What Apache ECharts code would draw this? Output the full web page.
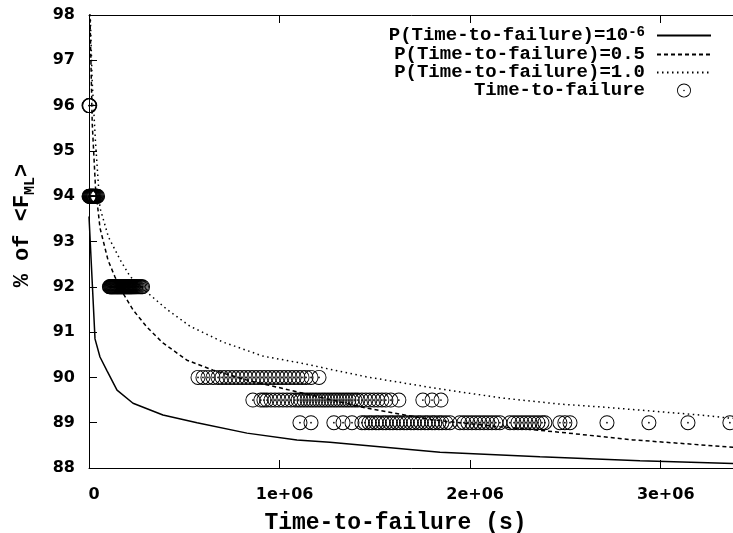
<!DOCTYPE html>
<html>
<head>
<meta charset="utf-8">
<script src="https://cdn.jsdelivr.net/npm/echarts/dist/echarts.min.js"></script>
<style>
  html, body { margin: 0; padding: 0; background: #fff; }
  #chart { width: 733px; height: 533px; }
</style>
</head>
<body>
<div id="chart"></div>
<script>
// Model curves: time-to-failure (s) vs % of <F_ML>
const curveLowX  = [0, 31500, 57700, 94000, 147000, 231000, 388000, 567000, 829000, 1091000, 1264000, 1842000, 2366000, 2891000, 3379000, 3500000];
const curveLowY  = [93.55, 90.85, 90.45, 90.15, 89.72, 89.43, 89.17, 89.0, 88.77, 88.62, 88.57, 88.35, 88.25, 88.16, 88.10, 88.09];

const curveMidX  = [0, 17000, 34000, 57700, 99700, 136000, 178000, 231000, 304000, 388000, 514000, 651000, 829000, 1002000, 1458000, 1805000, 2156000, 2471000, 2854000, 3379000, 3500000];
const curveMidY  = [99.0, 95.6, 94.2, 93.3, 92.59, 92.22, 91.86, 91.49, 91.11, 90.76, 90.38, 90.16, 89.94, 89.77, 89.32, 89.06, 88.91, 88.79, 88.62, 88.46, 88.43];

const curveHighX = [0, 17000, 34000, 57700, 102000, 163000, 215000, 304000, 409000, 530000, 703000, 913000, 1107000, 1458000, 1805000, 2156000, 2471000, 2681000, 3206000, 3363000, 3500000];
const curveHighY = [99.0, 96.5, 95.2, 93.74, 93.1, 92.6, 92.23, 91.88, 91.5, 91.13, 90.78, 90.47, 90.32, 90.01, 89.77, 89.55, 89.41, 89.35, 89.17, 89.10, 89.07];

// Observed time-to-failure samples (s), grouped by level
const obsLevels = [96, 94, 92, 90, 89.5, 89];
const obs96  = [0, 2000, 4000];
const obs94  = [0, 2000, 4000, 5000, 7000, 9000, 11000, 13000, 15000, 17000, 19000, 21000, 23000, 25000, 27000, 30000, 33000, 36000, 39000, 42000, 45000];
const obs92  = [107000, 110000, 113000, 116000, 119000, 121000, 124000, 127000, 130000, 133000, 136000, 139000, 142000, 145000, 148000, 151000, 154000, 157000, 160000, 163000, 166000, 169000, 172000, 175000, 178000, 181000, 184000, 187000, 190000, 193000, 196000, 199000, 202000, 205000, 208000, 211000, 214000, 217000, 220000, 223000, 226000, 230000, 234000, 238000, 243000, 248000, 254000, 261000, 268000, 275000, 281000];
const obs90  = [572000, 598000, 624000, 651000, 677000, 698000, 719000, 740000, 761000, 782000, 803000, 824000, 845000, 866000, 887000, 908000, 929000, 950000, 971000, 992000, 1013000, 1034000, 1055000, 1076000, 1097000, 1118000, 1139000, 1165000, 1207000];
const obs895 = [860000, 902000, 918000, 934000, 955000, 976000, 997000, 1018000, 1039000, 1060000, 1081000, 1097000, 1112000, 1128000, 1144000, 1160000, 1175000, 1191000, 1207000, 1223000, 1238000, 1254000, 1270000, 1286000, 1301000, 1317000, 1333000, 1349000, 1364000, 1380000, 1396000, 1411000, 1432000, 1453000, 1474000, 1495000, 1516000, 1537000, 1558000, 1584000, 1626000, 1752000, 1800000, 1847000];
const obs89  = [1107000, 1165000, 1285000, 1333000, 1380000, 1432000, 1448000, 1469000, 1485000, 1506000, 1521000, 1542000, 1558000, 1579000, 1595000, 1616000, 1632000, 1653000, 1668000, 1689000, 1705000, 1726000, 1742000, 1763000, 1779000, 1800000, 1815000, 1836000, 1852000, 1873000, 1894000, 1946000, 1967000, 1988000, 2009000, 2030000, 2051000, 2072000, 2093000, 2114000, 2135000, 2156000, 2209000, 2230000, 2251000, 2272000, 2293000, 2314000, 2335000, 2356000, 2377000, 2392000, 2471000, 2497000, 2524000, 2718000, 2938000, 3143000, 3363000];

const xTickLabels = { 0: '0', 1000000: '1e+06', 2000000: '2e+06', 3000000: '3e+06' };
const seriesNames = ['P(Time-to-failure)=10^-6', 'P(Time-to-failure)=0.5', 'P(Time-to-failure)=1.0', 'Time-to-failure'];

const zip = (xs, ys) => xs.map((x, i) => [x, ys[i]]);
const obsGroups = [obs96, obs94, obs92, obs90, obs895, obs89];
const obsData = [];
obsGroups.forEach((xs, g) => xs.forEach(x => obsData.push([x, obsLevels[g]])));

// open circle with a centre dot (outer ring, hole, dot)
const ringDot = 'path://M8,0A8,8,0,1,1,8,16A8,8,0,1,1,8,0Z M8,1A7,7,0,1,0,8,15A7,7,0,1,0,8,1Z M8,7.1A0.9,0.9,0,1,1,8,8.9A0.9,0.9,0,1,1,8,7.1Z';

const MONO = '"Liberation Mono", "DejaVu Sans Mono", monospace';
const SANS = '"DejaVu Sans", sans-serif';

const chart = echarts.init(document.getElementById('chart'), null, { renderer: 'canvas' });

const tickStyle = { show: true, inside: true, length: 8, lineStyle: { color: '#000', width: 1 } };

chart.setOption({
  animation: false,
  backgroundColor: '#fff',
  grid: { left: 89, top: 15, right: -23, bottom: 65, containLabel: false, outerBoundsMode: 'none' },
  legend: {
    orient: 'vertical',
    align: 'right',
    right: 21,
    top: 25,
    padding: 0,
    itemWidth: 54,
    itemHeight: 14,
    itemGap: -1,
    data: seriesNames.map((n, i) => i === 3
      ? { name: n, icon: ringDot }
      : { name: n, itemStyle: { opacity: 0 } }),
    formatter: function (name) {
      if (name.indexOf('^') >= 0) {
        const parts = name.split('^');
        return '{a|' + parts[0] + '}{sup|' + parts[1] + '}';
      }
      return '{a|' + name + '}';
    },
    textStyle: {
      color: '#000',
      padding: [0, 7, 0, 0],
      lineHeight: 17,
      rich: {
        a: { fontFamily: MONO, fontWeight: 'bold', fontSize: 19, lineHeight: 17, color: '#000' },
        sup: { fontFamily: MONO, fontWeight: 'bold', fontSize: 14, lineHeight: 6, padding: [0, 0, 7, 0], color: '#000' }
      }
    }
  },
  xAxis: [{
    type: 'value',
    min: 0,
    max: 3500000,
    interval: 1000000,
    position: 'bottom',
    name: 'Time-to-failure (s)',
    nameLocation: 'middle',
    nameGap: 44,
    nameTextStyle: { fontFamily: MONO, fontWeight: 'bold', fontSize: 23, color: '#000', padding: [0, 54, 0, 0] },
    axisLine: { show: true, onZero: false, lineStyle: { color: '#000', width: 1 } },
    axisTick: tickStyle,
    splitLine: { show: false },
    axisLabel: {
      color: '#000', fontFamily: SANS, fontWeight: 'bold', fontSize: 16, margin: 19,
      padding: [0, 0, 0, 10],
      formatter: v => (xTickLabels[v] !== undefined ? xTickLabels[v] : '')
    }
  }, {
    type: 'value',
    min: 0,
    max: 3500000,
    interval: 1000000,
    position: 'top',
    axisLine: { show: true, onZero: false, lineStyle: { color: '#000', width: 1 } },
    axisTick: tickStyle,
    splitLine: { show: false },
    axisLabel: { show: false }
  }],
  yAxis: {
    type: 'value',
    min: 88,
    max: 98,
    interval: 1,
    name: '{a|% of <F}{sub|ML}{a|>}',
    nameLocation: 'middle',
    nameRotate: 90,
    nameGap: 55,
    nameTextStyle: {
      padding: [0, 0, 0, 32],
      rich: {
        a: { fontFamily: MONO, fontWeight: 'bold', fontSize: 22, lineHeight: 24, color: '#000' },
        sub: { fontFamily: MONO, fontWeight: 'bold', fontSize: 15, lineHeight: 10, padding: [16, 0, 0, 0], color: '#000' }
      }
    },
    axisLine: { show: true, onZero: false, lineStyle: { color: '#000', width: 1 } },
    axisTick: tickStyle,
    splitLine: { show: false },
    axisLabel: { color: '#000', fontFamily: SANS, fontWeight: 'bold', fontSize: 16, margin: 14 }
  },
  series: [{
    name: seriesNames[0],
    type: 'line',
    data: zip(curveLowX, curveLowY),
    symbol: 'none',
    clip: true,
    lineStyle: { color: '#000', width: 1.5, type: 'solid' },
    itemStyle: { color: '#000' }
  }, {
    name: seriesNames[1],
    type: 'line',
    data: zip(curveMidX, curveMidY),
    symbol: 'none',
    clip: true,
    lineStyle: { color: '#000', width: 1.5, type: [4, 3] },
    itemStyle: { color: '#000' }
  }, {
    name: seriesNames[2],
    type: 'line',
    data: zip(curveHighX, curveHighY),
    symbol: 'none',
    clip: true,
    lineStyle: { color: '#000', width: 1.5, type: [1.5, 3.5] },
    itemStyle: { color: '#000' }
  }, {
    name: seriesNames[3],
    type: 'scatter',
    data: obsData,
    symbol: ringDot,
    symbolSize: 15,
    symbolKeepAspect: true,
    clip: false,
    itemStyle: { color: '#000', opacity: 1 }
  }]
});
</script>
</body>
</html>
